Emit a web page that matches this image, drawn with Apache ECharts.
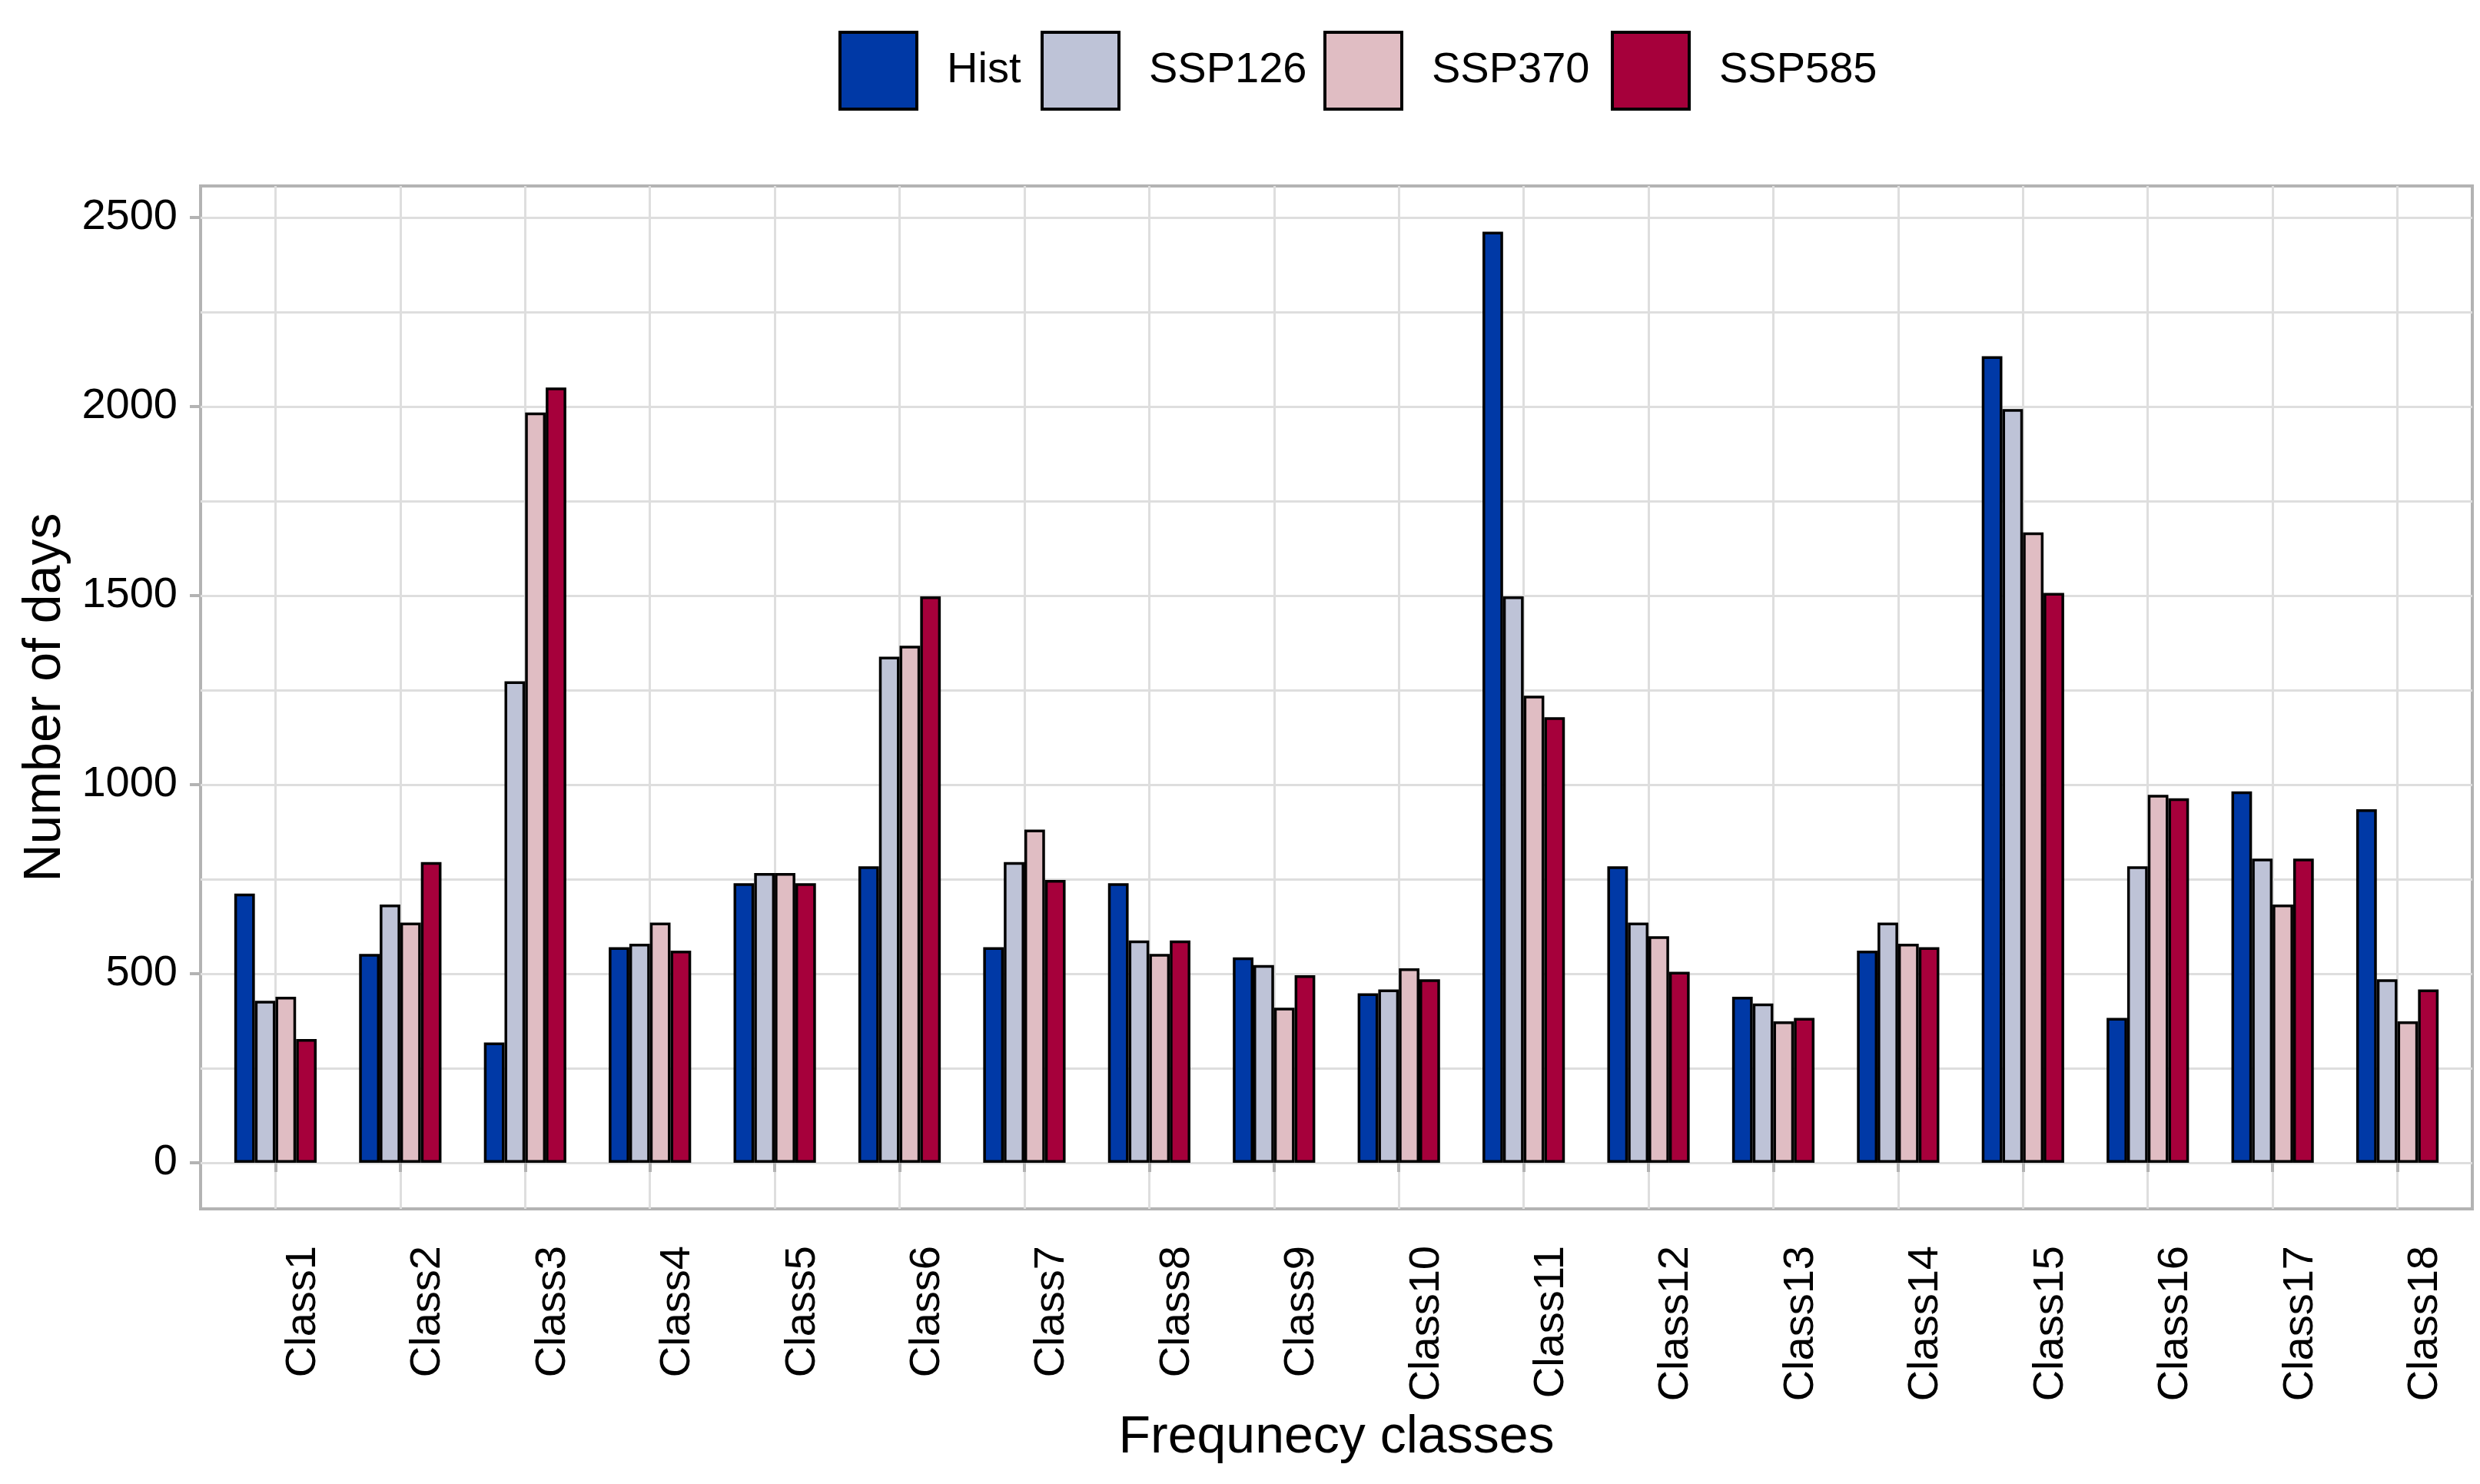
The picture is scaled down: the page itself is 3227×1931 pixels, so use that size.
<!DOCTYPE html>
<html>
<head>
<meta charset="utf-8">
<script src="https://cdn.jsdelivr.net/npm/echarts@6/dist/echarts.min.js"></script>
<style>
  html, body { margin: 0; padding: 0; background: #fff; }
  #chart { width: 3227px; height: 1931px; }
</style>
</head>
<body>
<div id="chart"></div>
<script>
// Datos
const categories = ['Class1', 'Class2', 'Class3', 'Class4', 'Class5', 'Class6', 'Class7', 'Class8', 'Class9',
    'Class10', 'Class11', 'Class12', 'Class13', 'Class14', 'Class15', 'Class16', 'Class17', 'Class18'];
const seriesNames = ['Hist', 'SSP126', 'SSP370', 'SSP585'];
const seriesColors = ['#0039A6', '#BEC3D7', '#E0BDC3', '#A6003B'];
const hist   = [712, 552, 318, 570, 739, 784, 570, 739, 543, 448, 2462, 784, 439, 561, 2133, 383, 982, 935];
const ssp126 = [428, 683, 1273, 579, 766, 1338, 795, 588, 523, 458, 1498, 635, 421, 635, 1993, 784, 804, 485];
const ssp370 = [439, 635, 1984, 635, 766, 1367, 881, 552, 410, 514, 1235, 599, 374, 579, 1667, 973, 683, 374];
const ssp585 = [327, 795, 2050, 561, 739, 1498, 748, 588, 496, 485, 1178, 505, 383, 570, 1507, 964, 804, 458];
const yMajor = [0, 500, 1000, 1500, 2000, 2500];
const yGrid = [0, 250, 500, 750, 1000, 1250, 1500, 1750, 2000, 2250, 2500];
const legendLeft = [1091, 1354, 1722, 2096];

const font = 'Liberation Sans';
const xPositions = categories.map((c, i) => i + 1);
const allValues = [hist, ssp126, ssp370, ssp585];

const chart = echarts.init(document.getElementById('chart'));

const series = allValues.map((values, k) => ({
    name: seriesNames[k],
    type: 'bar',
    data: values.map((v, i) => [xPositions[i], v]),
    barGap: '0%',
    barCategoryGap: '34%',
    itemStyle: {
        color: seriesColors[k],
        borderColor: '#000',
        borderWidth: 3.5
    }
}));

// Una leyenda por serie, para poder colocarlas como en la figura
const legends = seriesNames.map((name, k) => ({
    data: [name],
    left: legendLeft[k],
    top: 40,
    padding: 0,
    icon: 'rect',
    itemWidth: 100,
    itemHeight: 100,
    selectedMode: false,
    itemStyle: { borderColor: '#000', borderWidth: 4 },
    textStyle: { fontFamily: font, fontSize: 56, color: '#000', padding: [0, 0, 0, 34] }
}));

const option = {
    animation: false,
    backgroundColor: '#fff',
    legend: legends,
    grid: {
        left: 261,
        right: 10,
        top: 242,
        bottom: 358,
        show: true,
        borderColor: '#b3b3b3',
        borderWidth: 4,
        containLabel: false,
        outerBoundsMode: 'none'
    },
    xAxis: {
        type: 'value',
        min: 0.4,
        max: 18.6,
        name: 'Frequnecy classes',
        nameLocation: 'middle',
        nameGap: 264,
        nameTextStyle: { fontFamily: font, fontSize: 68, color: '#000' },
        axisLine: { show: false },
        axisTick: {
            show: true,
            customValues: xPositions,
            length: 12,
            lineStyle: { color: '#b3b3b3', width: 4 }
        },
        axisLabel: {
            customValues: xPositions,
            formatter: (v) => categories[Math.round(v) - 1],
            rotate: 90,
            verticalAlign: 'top',
            padding: [8, 0, 0, 0],
            margin: 48,
            fontFamily: font,
            fontSize: 56,
            color: '#000'
        },
        splitLine: { show: true, lineStyle: { color: '#dedede', width: 3 } }
    },
    yAxis: [
        {
            type: 'value',
            min: -122,
            max: 2583,
            name: 'Number of days',
            nameLocation: 'middle',
            nameRotate: 90,
            nameGap: 168,
            nameTextStyle: { fontFamily: font, fontSize: 68, color: '#000' },
            axisLine: { show: false },
            axisTick: {
                show: true,
                customValues: yMajor,
                length: 14,
                lineStyle: { color: '#b3b3b3', width: 4 }
            },
            axisLabel: {
                customValues: yMajor,
                formatter: (v) => String(v),
                margin: 30,
                fontFamily: font,
                fontSize: 56,
                color: '#000'
            },
            splitLine: { show: false }
        },
        {
            // solo para las lineas de la rejilla (mayores y menores)
            type: 'value',
            min: -122,
            max: 2583,
            position: 'left',
            axisLine: { show: false },
            axisTick: { show: false, customValues: yGrid },
            axisLabel: { show: false },
            splitLine: { show: true, lineStyle: { color: '#dedede', width: 3 } }
        }
    ],
    series: series
};

option && chart.setOption(option);
</script>
</body>
</html>
